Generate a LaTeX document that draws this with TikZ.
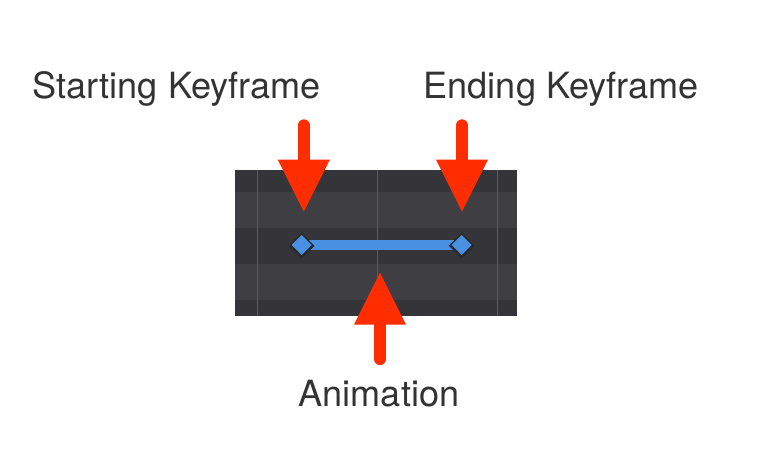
\documentclass[tikz,border=0pt]{standalone}
\usepackage{fontspec}
\setmainfont{TeX Gyre Heros}
\usetikzlibrary{arrows.meta}
\definecolor{rowdark}{HTML}{353539}
\definecolor{rowlight}{HTML}{3E3E43}
\definecolor{gridline}{HTML}{5A5A5E}
\definecolor{keyblue}{HTML}{4A90E2}
\definecolor{keyshadow}{HTML}{28282B}
\definecolor{arrowred}{HTML}{FF2D00}
\definecolor{labeltext}{HTML}{333333}
\tikzset{
  label text/.style={font=\fontsize{36.1}{40}\selectfont, text=labeltext, inner sep=0pt},
  red arrow/.style={draw=arrowred, line width=11.7pt, line cap=round,
    -{Triangle[length=52pt, width=52pt, line width=0pt, round=false]}},
  keydiamond/.style={fill=keyblue},
}
\begin{document}
\begin{tikzpicture}[x=1pt,y=-1pt]
\useasboundingbox (0,0) rectangle (760,473);
\fill[white] (0,0) rectangle (760,473);
% panel rows
\fill[rowdark]  (235,170)   rectangle (516.7,191.7);
\fill[rowlight] (235,191.7) rectangle (516.7,228.3);
\fill[rowdark]  (235,228.3) rectangle (516.7,264);
\fill[rowlight] (235,264)   rectangle (516.7,300);
\fill[rowdark]  (235,300)   rectangle (516.7,315.7);
% grid lines
\foreach \gx in {257.7,377.7,497.7}
  \draw[gridline, line width=1.3pt] (\gx,170) -- (\gx,315.7);
% animation bar
\fill[keyblue] (305,239.8) rectangle (458,250.4);
% keyframes
\coordinate (k1) at (301.7,245);
\coordinate (k2) at (461.7,245);
\foreach \k in {k1,k2}{
  \fill[keyshadow] ([shift={(-12.8,0.8)}]\k) -- ([shift={(0,-12)}]\k) -- ([shift={(12.8,0.8)}]\k) -- ([shift={(0,13.6)}]\k) -- cycle;
  \fill[keydiamond] ([shift={(-10,0)}]\k) -- ([shift={(0,-10)}]\k) -- ([shift={(10,0)}]\k) -- ([shift={(0,10)}]\k) -- cycle;
}
% labels
\node[label text, anchor=base west] (start) at (32.5,98.3) {Starting Keyframe};
\node[label text, anchor=base west] (end) at (423.5,98.3) {Ending Keyframe};
\node[label text, anchor=base west] (anim) at (298.5,406) {Animation};
% arrows
\coordinate (a1top) at (303.8,125.2);
\coordinate (a1tip) at (303.8,211.7);
\coordinate (a2top) at (462,125.2);
\coordinate (a2tip) at (462,211.7);
\coordinate (a3bot) at (380,359.2);
\coordinate (a3tip) at (380,272.7);
\draw[red arrow] (a1top) -- (a1tip);
\draw[red arrow] (a2top) -- (a2tip);
\draw[red arrow] (a3bot) -- (a3tip);
\end{tikzpicture}
\end{document}
